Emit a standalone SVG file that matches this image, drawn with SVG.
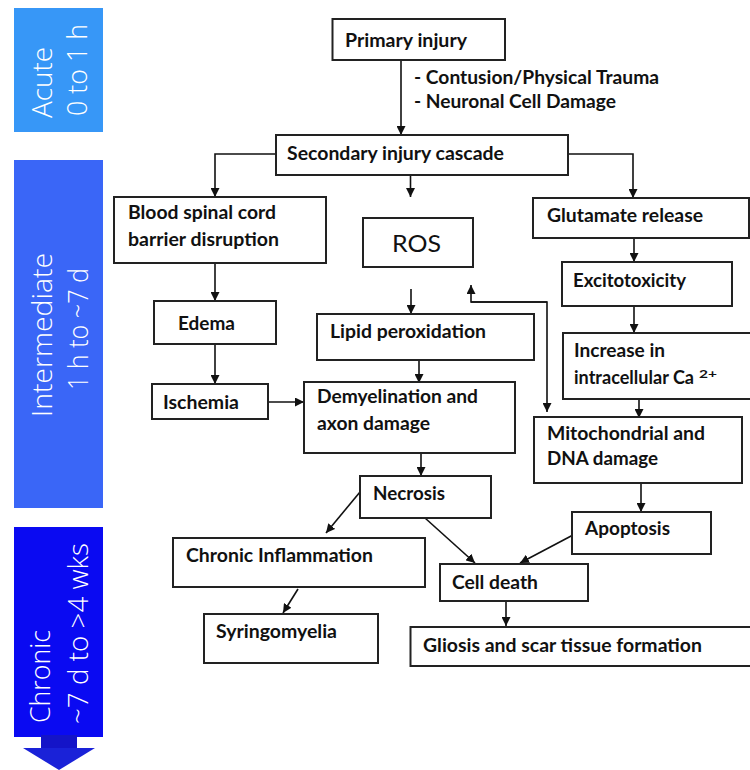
<svg xmlns="http://www.w3.org/2000/svg" width="750" height="770" viewBox="0 0 750 770">
<defs>
<marker id="ah" viewBox="0 0 10 10" refX="10" refY="5" markerWidth="9" markerHeight="9" markerUnits="userSpaceOnUse" orient="auto">
<path d="M0,0 L10,5 L0,10 z" fill="#111"/>
</marker>
</defs>
<style>
.box{fill:#fff;stroke:#222;stroke-width:2}
.t{font-family:Lato,"Liberation Sans",sans-serif;font-weight:bold;font-size:18px;fill:#111}
.r{font-family:Lato,"Liberation Sans",sans-serif;font-size:23px;fill:#111}
.side{font-family:"Open Sans","DejaVu Sans",sans-serif;font-weight:300;font-size:27px;fill:#fff}
.c{fill:none;stroke:#111;stroke-width:1.6}
.ca{fill:none;stroke:#111;stroke-width:1.6;marker-end:url(#ah)}
</style>
<rect width="750" height="770" fill="#fff"/>

<g id="phase-acute">
<rect x="14" y="8" width="89" height="124" fill="#3797f7"/>
<text class="side" transform="translate(52,118) rotate(-90)" textLength="71" lengthAdjust="spacingAndGlyphs">Acute</text>
<text class="side" transform="translate(87,116) rotate(-90)" textLength="92" lengthAdjust="spacingAndGlyphs">0 to 1 h</text>
</g>
<g id="phase-intermediate">
<rect x="14" y="160" width="89" height="348" fill="#3a66f7"/>
<text class="side" transform="translate(52,417) rotate(-90)" textLength="164" lengthAdjust="spacingAndGlyphs">Intermediate</text>
<text class="side" transform="translate(88,390) rotate(-90)" textLength="122" lengthAdjust="spacingAndGlyphs">1 h to ~7 d</text>
</g>
<g id="phase-chronic">
<rect x="14" y="527" width="89" height="210" fill="#0a0af2"/>
<rect x="41" y="735" width="36" height="14" fill="#1414c8"/>
<polygon points="23,748 95,748 59,770" fill="#1a22d8"/>
<text class="side" transform="translate(50,723) rotate(-90)" textLength="93" lengthAdjust="spacingAndGlyphs">Chronic</text>
<text class="side" transform="translate(88,724) rotate(-90)" textLength="181" lengthAdjust="spacingAndGlyphs">~7 d to &gt;4 wks</text>
</g>

<g id="connectors">
<line class="ca" x1="401" y1="60" x2="401" y2="135"/>
<polyline class="ca" points="276,154 215,154 215,197"/>
<line class="ca" x1="410.5" y1="175" x2="410.5" y2="197"/>
<polyline class="ca" points="568,154 633,154 633,198"/>
<line class="ca" x1="215" y1="263" x2="215" y2="301"/>
<line class="ca" x1="215" y1="344" x2="215" y2="384"/>
<line class="ca" x1="268" y1="402" x2="304" y2="402"/>
<line class="ca" x1="411" y1="289" x2="411" y2="314"/>
<line class="ca" x1="419" y1="360" x2="419" y2="383"/>
<line class="ca" x1="421" y1="453" x2="421" y2="476"/>
<polyline class="ca" points="547,302 471,302 471,285"/>
<polyline class="ca" points="471,302 547,302 547,412"/>
<line class="ca" x1="634" y1="238" x2="634" y2="262"/>
<line class="ca" x1="634" y1="306" x2="634" y2="333"/>
<line class="ca" x1="639" y1="399" x2="639" y2="418"/>
<line class="ca" x1="641" y1="484" x2="641" y2="512"/>
<line class="ca" x1="360" y1="492" x2="326" y2="533"/>
<line class="ca" x1="425" y1="518" x2="475" y2="563"/>
<line class="ca" x1="573" y1="535" x2="520" y2="563"/>
<line class="ca" x1="298" y1="589" x2="283" y2="613"/>
<line class="ca" x1="506" y1="601" x2="506" y2="626"/>
</g>

<g id="primary-injury">
<rect class="box" x="332.5" y="19" width="172.5" height="41"/>
<text class="t" x="345" y="47" textLength="122" lengthAdjust="spacingAndGlyphs">Primary injury</text>
</g>
<g id="primary-notes">
<text class="t" x="414" y="84" textLength="245" lengthAdjust="spacingAndGlyphs">- Contusion/Physical Trauma</text>
<text class="t" x="414" y="108" textLength="202" lengthAdjust="spacingAndGlyphs">- Neuronal Cell Damage</text>
</g>
<g id="secondary-cascade">
<rect class="box" x="276" y="135" width="292" height="40"/>
<text class="t" x="287" y="160" textLength="217" lengthAdjust="spacingAndGlyphs">Secondary injury cascade</text>
</g>
<g id="bscb">
<rect class="box" x="114" y="197" width="212" height="66"/>
<text class="t" x="128" y="219" textLength="148" lengthAdjust="spacingAndGlyphs">Blood spinal cord</text>
<text class="t" x="128" y="246" textLength="151" lengthAdjust="spacingAndGlyphs">barrier disruption</text>
</g>
<g id="ros">
<rect class="box" x="363" y="218" width="110" height="49"/>
<text class="r" x="392" y="252" textLength="49" lengthAdjust="spacingAndGlyphs">ROS</text>
</g>
<g id="glutamate">
<rect class="box" x="533" y="198" width="216" height="40"/>
<text class="t" x="547" y="222" textLength="156" lengthAdjust="spacingAndGlyphs">Glutamate release</text>
</g>
<g id="edema">
<rect class="box" x="154" y="301" width="122" height="43"/>
<text class="t" x="178" y="330" textLength="57" lengthAdjust="spacingAndGlyphs">Edema</text>
</g>
<g id="excitotoxicity">
<rect class="box" x="562" y="262" width="170" height="44"/>
<text class="t" x="573" y="287" textLength="113" lengthAdjust="spacingAndGlyphs">Excitotoxicity</text>
</g>
<g id="lipid">
<rect class="box" x="317" y="314" width="217" height="46"/>
<text class="t" x="330" y="338" textLength="156" lengthAdjust="spacingAndGlyphs">Lipid peroxidation</text>
</g>
<g id="calcium">
<rect class="box" x="563" y="333" width="195" height="66"/>
<text class="t" x="574" y="357" textLength="91" lengthAdjust="spacingAndGlyphs">Increase in</text>
<text class="t" x="574" y="384" textLength="120" lengthAdjust="spacingAndGlyphs">intracellular Ca</text>
<text class="t" x="699" y="378" style="font-size:10.5px" textLength="18" lengthAdjust="spacingAndGlyphs">2+</text>
</g>
<g id="ischemia">
<rect class="box" x="152" y="384" width="116" height="35"/>
<text class="t" x="163" y="409" textLength="76" lengthAdjust="spacingAndGlyphs">Ischemia</text>
</g>
<g id="demyelination">
<rect class="box" x="304" y="382" width="211" height="71"/>
<text class="t" x="317" y="403" textLength="161" lengthAdjust="spacingAndGlyphs">Demyelination and</text>
<text class="t" x="317" y="430" textLength="113" lengthAdjust="spacingAndGlyphs">axon damage</text>
</g>
<g id="mitochondrial">
<rect class="box" x="534" y="417" width="208" height="66"/>
<text class="t" x="547" y="440" textLength="158" lengthAdjust="spacingAndGlyphs">Mitochondrial and</text>
<text class="t" x="547" y="465" textLength="111" lengthAdjust="spacingAndGlyphs">DNA damage</text>
</g>
<g id="necrosis">
<rect class="box" x="360" y="476" width="131" height="42"/>
<text class="t" x="373" y="500" textLength="72" lengthAdjust="spacingAndGlyphs">Necrosis</text>
</g>
<g id="apoptosis">
<rect class="box" x="572" y="512" width="139" height="42"/>
<text class="t" x="585" y="535" textLength="85" lengthAdjust="spacingAndGlyphs">Apoptosis</text>
</g>
<g id="chronic-inflammation">
<rect class="box" x="173" y="538" width="252" height="49"/>
<text class="t" x="186" y="562" textLength="187" lengthAdjust="spacingAndGlyphs">Chronic Inflammation</text>
</g>
<g id="cell-death">
<rect class="box" x="440" y="564" width="148" height="37"/>
<text class="t" x="452" y="589" textLength="86" lengthAdjust="spacingAndGlyphs">Cell death</text>
</g>
<g id="syringomyelia">
<rect class="box" x="204" y="614" width="174" height="49"/>
<text class="t" x="216" y="638" textLength="121" lengthAdjust="spacingAndGlyphs">Syringomyelia</text>
</g>
<g id="gliosis">
<rect class="box" x="410.5" y="627" width="345" height="39"/>
<text class="t" x="423" y="652" textLength="279" lengthAdjust="spacingAndGlyphs">Gliosis and scar tissue formation</text>
</g>
</svg>
